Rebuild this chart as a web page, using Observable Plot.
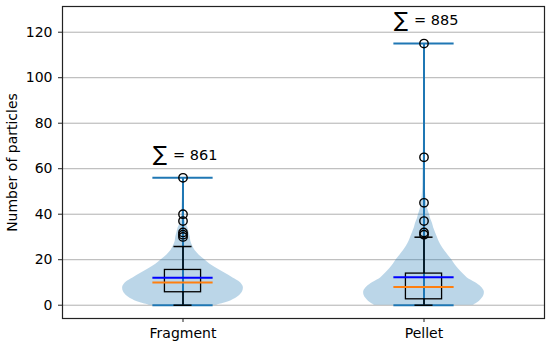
<!DOCTYPE html>
<html>
<head>
<meta charset="utf-8">
<script src="https://cdn.jsdelivr.net/npm/d3@7"></script>
<script src="https://cdn.jsdelivr.net/npm/@observablehq/plot@0.6"></script>
<style>
  html, body { margin: 0; padding: 0; background: #fff; }
  #chart { width: 550px; height: 347px; }
</style>
</head>
<body>
<div id="chart"></div>
<script>
// ---- data ----
const categories = ["Fragment", "Pellet"];
const positions = [1, 2];
const minValues = [0, 0];
const maxValues = [56, 115];
const meanValues = [12.1, 12.3];
const medianValues = [10, 8];
const q1Values = [5.7, 2.6];
const q3Values = [15.5, 13.9];
const whiskerLow = [0, 0];
const whiskerHigh = [25.8, 29.9];
const totals = [861, 885];
const outliersFragment = [56, 40, 37, 32, 31, 30];
const outliersPellet = [115, 65, 45, 37, 32, 31];
// violin outline: value levels and relative half-widths
const violinLevelsFragment = [0, 2, 4, 6, 8, 10, 12, 14, 16, 18, 20, 22, 24, 26, 28, 30, 32, 34, 36, 38, 40, 44, 48, 52, 56];
const violinWidthsFragment = [0.55, 0.8, 0.93, 0.99, 1.0, 0.95, 0.83, 0.7, 0.57, 0.45, 0.36, 0.27, 0.2, 0.16, 0.13, 0.12, 0.1, 0.08, 0.045, 0.03, 0.022, 0.015, 0.01, 0.008, 0.005];
const violinLevelsPellet = [0, 2, 4, 6, 8, 10, 12, 14, 16, 18, 20, 22, 24, 26, 28, 30, 32, 34, 36, 38, 40, 42, 44, 48, 52, 56, 60, 65, 70, 80, 90, 100, 110, 115];
const violinWidthsPellet = [0.82, 0.93, 0.99, 1.0, 0.95, 0.85, 0.72, 0.64, 0.57, 0.51, 0.46, 0.4, 0.34, 0.29, 0.25, 0.22, 0.19, 0.16, 0.14, 0.11, 0.09, 0.065, 0.05, 0.03, 0.02, 0.018, 0.015, 0.013, 0.01, 0.006, 0.004, 0.004, 0.004, 0.003];
const yTicks = [0, 20, 40, 60, 80, 100, 120];

// ---- derived tables ----
const stats = categories.map((c, i) => ({
  cat: c, pos: positions[i], min: minValues[i], max: maxValues[i],
  mean: meanValues[i], median: medianValues[i], q1: q1Values[i], q3: q3Values[i],
  wlo: whiskerLow[i], whi: whiskerHigh[i], total: totals[i]
}));
const violin = [
  ...violinLevelsFragment.map((y, j) => ({cat: categories[0], pos: positions[0], y, w: violinWidthsFragment[j]})),
  ...violinLevelsPellet.map((y, j) => ({cat: categories[1], pos: positions[1], y, w: violinWidthsPellet[j]}))
];
const fliers = [
  ...outliersFragment.map(v => ({pos: positions[0], v})),
  ...outliersPellet.map(v => ({pos: positions[1], v}))
];

const C0 = "#1f77b4";
const violinHalf = 0.25, capHalf = 0.125, boxHalf = 0.075, whiskerCapHalf = 0.0375;
const font = "DejaVu Sans, sans-serif";

const chart = Plot.plot({
  width: 550,
  height: 347,
  marginLeft: 62,
  marginRight: 6,
  marginTop: 6,
  marginBottom: 29,
  style: {fontFamily: font, fontSize: "14px", background: "#fff", color: "#000"},
  x: {domain: [0.5, 2.5], axis: null},
  y: {domain: [-5.84, 131.3], axis: null},
  marks: [
    Plot.gridY(yTicks, {stroke: "#b0b0b0", strokeOpacity: 1, strokeWidth: 1}),
    Plot.areaX(violin, {
      y: "y", x1: d => d.pos - d.w * violinHalf, x2: d => d.pos + d.w * violinHalf,
      z: "cat", fill: C0, fillOpacity: 0.3, curve: "catmull-rom"
    }),
    // violin extrema / bar
    Plot.ruleX(stats, {x: "pos", y1: "min", y2: "max", stroke: C0, strokeWidth: 2}),
    Plot.ruleY(stats, {y: "min", x1: d => d.pos - capHalf, x2: d => d.pos + capHalf, stroke: C0, strokeWidth: 2}),
    Plot.ruleY(stats, {y: "max", x1: d => d.pos - capHalf, x2: d => d.pos + capHalf, stroke: C0, strokeWidth: 2}),
    // boxplot
    Plot.ruleX(stats, {x: "pos", y1: "wlo", y2: "q1", stroke: "#000", strokeWidth: 1.5}),
    Plot.ruleX(stats, {x: "pos", y1: "q3", y2: "whi", stroke: "#000", strokeWidth: 1.5}),
    Plot.ruleY(stats, {y: "wlo", x1: d => d.pos - whiskerCapHalf, x2: d => d.pos + whiskerCapHalf, stroke: "#000", strokeWidth: 1.5}),
    Plot.ruleY(stats, {y: "whi", x1: d => d.pos - whiskerCapHalf, x2: d => d.pos + whiskerCapHalf, stroke: "#000", strokeWidth: 1.5}),
    Plot.rect(stats, {x1: d => d.pos - boxHalf, x2: d => d.pos + boxHalf, y1: "q1", y2: "q3", fill: "none", stroke: "#000", strokeWidth: 1.3}),
    Plot.ruleY(stats, {y: "mean", x1: d => d.pos - capHalf, x2: d => d.pos + capHalf, stroke: "#0000ff", strokeWidth: 2}),
    Plot.ruleY(stats, {y: "median", x1: d => d.pos - capHalf, x2: d => d.pos + capHalf, stroke: "#ff7f0e", strokeWidth: 2}),
    Plot.dot(fliers, {x: "pos", y: "v", r: 4.2, stroke: "#000", fill: "none", strokeWidth: 1.4}),
    // sum labels: large summation sign followed by "= total"
    Plot.text(stats, {x: "pos", y: d => d.max + 10, text: () => "\u2211", fontSize: 21, textAnchor: "middle", dx: -23, dy: -1, fill: "#000"}),
    Plot.text(stats, {x: "pos", y: d => d.max + 10, text: d => `= ${d.total}`, fontSize: 14.5, textAnchor: "start", dx: -10, fill: "#000"}),
    // frame & axes
    Plot.frame({stroke: "#222", strokeWidth: 1.2}),
    Plot.axisY(yTicks, {anchor: "left", tickSize: 4, tickPadding: 6, fontSize: 14, label: null, stroke: "#222"}),
    Plot.axisX(positions, {anchor: "bottom", tickSize: 4, tickPadding: 6, fontSize: 14, label: null,
      tickFormat: d => categories[positions.indexOf(d)], stroke: "#222"}),
    Plot.text(["Number of particles"], {frameAnchor: "left", dx: -50, rotate: -90, textAnchor: "middle", fontSize: 14, fill: "#000"})
  ]
});
document.getElementById("chart").appendChild(chart);
</script>
</body>
</html>
